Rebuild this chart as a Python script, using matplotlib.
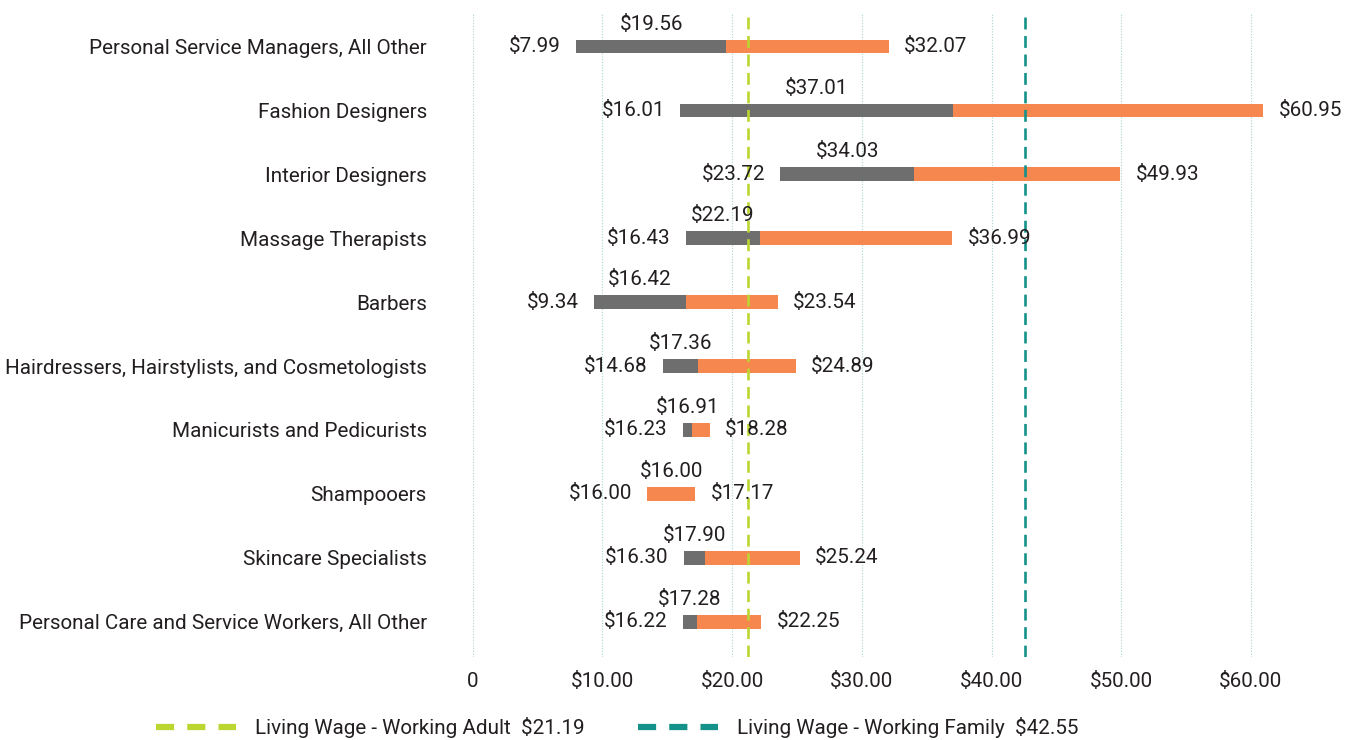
import matplotlib
matplotlib.use('Agg')
import matplotlib.pyplot as plt
from matplotlib.lines import Line2D

# Data (top to bottom)
categories = ['Personal Service Managers, All Other', 'Fashion Designers', 'Interior Designers',
              'Massage Therapists', 'Barbers', 'Hairdressers, Hairstylists, and Cosmetologists',
              'Manicurists and Pedicurists', 'Shampooers', 'Skincare Specialists',
              'Personal Care and Service Workers, All Other']
low = [7.99, 16.01, 23.72, 16.43, 9.34, 14.68, 16.23, 16.00, 16.30, 16.22]
median = [19.56, 37.01, 34.03, 22.19, 16.42, 17.36, 16.91, 16.00, 17.90, 17.28]
high = [32.07, 60.95, 49.93, 36.99, 23.54, 24.89, 18.28, 17.17, 25.24, 22.25]
# where the bar is drawn from (Shampooers bar starts left of its low value in the source)
bar_start = [7.99, 16.01, 23.72, 16.43, 9.34, 14.68, 16.23, 13.45, 16.30, 16.22]

living_adult = 21.19
living_family = 42.55
xticks = [0, 10, 20, 30, 40, 50, 60]
xtick_labels = ['0', '$10.00', '$20.00', '$30.00', '$40.00', '$50.00', '$60.00']

plt.rcParams['font.family'] = ['Roboto', 'DejaVu Sans']
fs = 14.9
txt = '#231f20'

fig = plt.figure(figsize=(13.59, 7.40), dpi=100)
ax = fig.add_axes([0.3478, 0.1122, 0.9682 - 0.3478, 0.9824 - 0.1122])

y = list(range(len(categories)))
gray_w = [m - l for m, l in zip(median, low)]
orange_left = [s + g for s, g in zip(bar_start, gray_w)]
orange_w = [h - o for h, o in zip(high, orange_left)]

ax.barh(y, gray_w, left=bar_start, height=0.21, color='#6d6e6d', zorder=2)
ax.barh(y, orange_w, left=orange_left, height=0.21, color='#f5874f', zorder=2)

ax.axvline(living_adult, color='#bcd631', lw=1.9, dashes=(4.5, 2.5), zorder=3)
ax.axvline(living_family, color='#14928a', lw=1.9, dashes=(4.5, 2.5), zorder=3)

for i in y:
    ax.annotate(f'${low[i]:.2f}', (bar_start[i], i), xytext=(-11, 0), textcoords='offset points',
                ha='right', va='center', fontsize=fs, color=txt)
    ax.annotate(f'${high[i]:.2f}', (high[i], i), xytext=(11, 0), textcoords='offset points',
                ha='left', va='center', fontsize=fs, color=txt)
    if gray_w[i] > 0:
        mx = bar_start[i] + gray_w[i] / 2
    else:
        mx = (bar_start[i] + high[i]) / 2
    ax.annotate(f'${median[i]:.2f}', (mx, i), xytext=(0, 16), textcoords='offset points',
                ha='center', va='center', fontsize=fs, color=txt)

ax.set_xlim(0, 65)
ax.set_ylim(9.55, -0.52)
ax.set_yticks(y)
ax.set_yticklabels(categories, fontsize=fs, color=txt)
ax.set_xticks(xticks)
ax.set_xticklabels(xtick_labels, fontsize=fs, color=txt)
ax.tick_params(axis='both', length=0)
ax.tick_params(axis='y', pad=33)
ax.tick_params(axis='x', pad=11)
ax.grid(axis='x', color='#a9d3d4', lw=0.8, linestyle=(0, (1, 1.5)), zorder=0)
for s in ax.spines.values():
    s.set_visible(False)

handles = [Line2D([0], [0], color='#bcd631', lw=4.5, linestyle=(0, (2.9, 2.1))),
           Line2D([0], [0], color='#14928a', lw=4.5, linestyle=(0, (2.9, 2.1)))]
labels = [f'Living Wage - Working Adult  ${living_adult:.2f}',
          f'Living Wage - Working Family  ${living_family:.2f}']
fig.legend(handles, labels, loc='center', bbox_to_anchor=(0.454, 1 - 728 / 740), ncol=2,
           frameon=False, fontsize=fs, handlelength=3.87, handletextpad=0.9,
           columnspacing=2.6, borderpad=0, labelcolor=txt)

fig.savefig('out.png', dpi=100)
